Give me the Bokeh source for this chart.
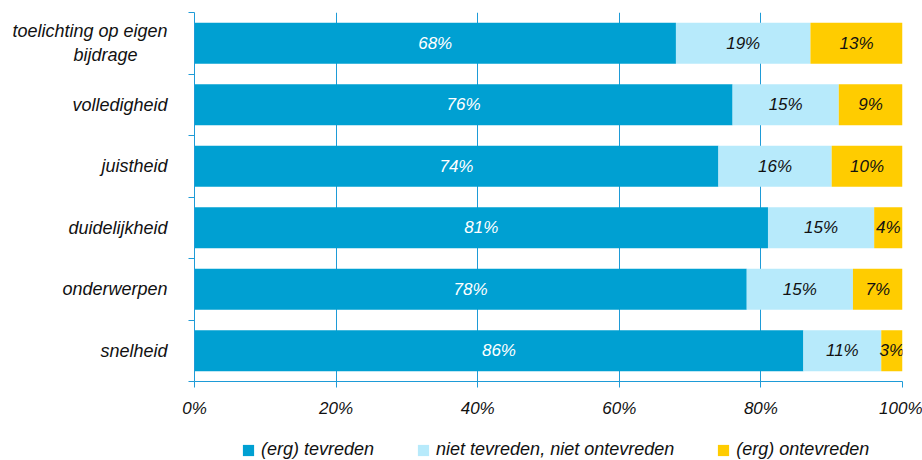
from bokeh.plotting import figure
from bokeh.layouts import column
from bokeh.models import ColumnDataSource, FixedTicker, Legend, LegendItem
from bokeh.core.properties import value
from bokeh.embed import file_html
from bokeh.resources import INLINE

NB = "\u00a0"
categories = ["snelheid", "onderwerpen", "duidelijkheid", "juistheid",
              "volledigheid", "toelichting op eigen\nbijdrage" + NB * 6]
tevreden = [86, 78, 81, 74, 76, 68]
neutraal = [11, 15, 15, 16, 15, 19]
ontevreden = [3, 7, 4, 10, 9, 13]
series_names = ["(erg) tevreden", "niet tevreden, niet ontevreden", "(erg) ontevreden"]
x_ticks = [0, 20, 40, 60, 80, 100]

colors = ["#00A0D2", "#B7EAFB", "#FFCC00"]
label_colors = ["#FFFFFF", "#111111", "#111111"]
AX = "#1E9BD7"
FONT = "Liberation Sans"

p = figure(width=922, height=420, x_range=(0, 100), y_range=(0, 6),
           output_backend="svg", toolbar_location=None,
           min_border_left=194, min_border_right=20, min_border_top=12,
           min_border_bottom=39)
p.outline_line_color = None

ys = [i + 0.5 for i in range(len(categories))]
series = [tevreden, neutraal, ontevreden]
left = [0] * len(categories)
for vals, col, lcol in zip(series, colors, label_colors):
    right = [l + v for l, v in zip(left, vals)]
    src = ColumnDataSource(dict(
        y=ys, left=left, right=right,
        mid=[(l + r) / 2 for l, r in zip(left, right)],
        lab=[f"{v}%" for v in vals]))
    p.hbar(y="y", left="left", right="right", height=0.67, source=src,
           fill_color=col, line_color=None)
    p.text(x="mid", y="y", text="lab", source=src, text_align="center",
           text_baseline="middle", text_font=value(FONT), text_font_style="italic",
           text_font_size="17px", text_color=lcol)
    left = right

# x axis
p.xaxis.ticker = FixedTicker(ticks=x_ticks)
p.xaxis.major_label_overrides = {t: f"{t}%" for t in x_ticks}
p.xaxis.axis_line_color = AX
p.xaxis.major_tick_line_color = AX
p.xaxis.major_tick_out = 6
p.xaxis.major_tick_in = 0
p.xaxis.minor_tick_line_color = None
p.xaxis.major_label_standoff = 11
p.xaxis.major_label_text_font = FONT
p.xaxis.major_label_text_font_style = "italic"
p.xaxis.major_label_text_font_size = "17px"
p.xaxis.major_label_text_color = "#111111"

# y axis
p.yaxis.ticker = FixedTicker(ticks=ys, minor_ticks=list(range(len(categories) + 1)))
p.yaxis.major_label_overrides = {y: c for y, c in zip(ys, categories)}
p.yaxis.axis_line_color = AX
p.yaxis.major_tick_line_color = None
p.yaxis.major_tick_out = 0
p.yaxis.major_tick_in = 0
p.yaxis.minor_tick_line_color = AX
p.yaxis.minor_tick_out = 6
p.yaxis.minor_tick_in = 0
p.yaxis.major_label_standoff = 21
p.yaxis.major_label_text_font = FONT
p.yaxis.major_label_text_font_style = "italic"
p.yaxis.major_label_text_font_size = "18px"
p.yaxis.major_label_text_color = "#111111"

p.xgrid.grid_line_color = AX
p.xgrid.grid_line_width = 1
p.ygrid.grid_line_color = None

# legend strip below the chart
lg = figure(width=922, height=40, x_range=(0, 1), y_range=(0, 1),
            output_backend="svg", toolbar_location=None,
            x_axis_type=None, y_axis_type=None,
            min_border_left=0, min_border_right=0, min_border_top=0, min_border_bottom=0)
lg.outline_line_color = None
lg.xgrid.grid_line_color = None
lg.ygrid.grid_line_color = None
items = []
for name, col in zip(series_names, colors):
    r = lg.hbar(y=[5], left=[0], right=[0], height=0.5, fill_color=col, line_color=None)
    items.append(LegendItem(label=name, renderers=[r]))
legend = Legend(items=items, orientation="horizontal", location=(47, 0),
                border_line_alpha=0, background_fill_alpha=0,
                glyph_width=14, glyph_height=14, spacing=42, label_standoff=6,
                label_text_font=FONT, label_text_font_style="italic",
                label_text_font_size="18px", label_text_color="#111111",
                padding=0, margin=0)
lg.add_layout(legend)

open("out.html", "w").write(file_html(column(p, lg, spacing=0), INLINE))
